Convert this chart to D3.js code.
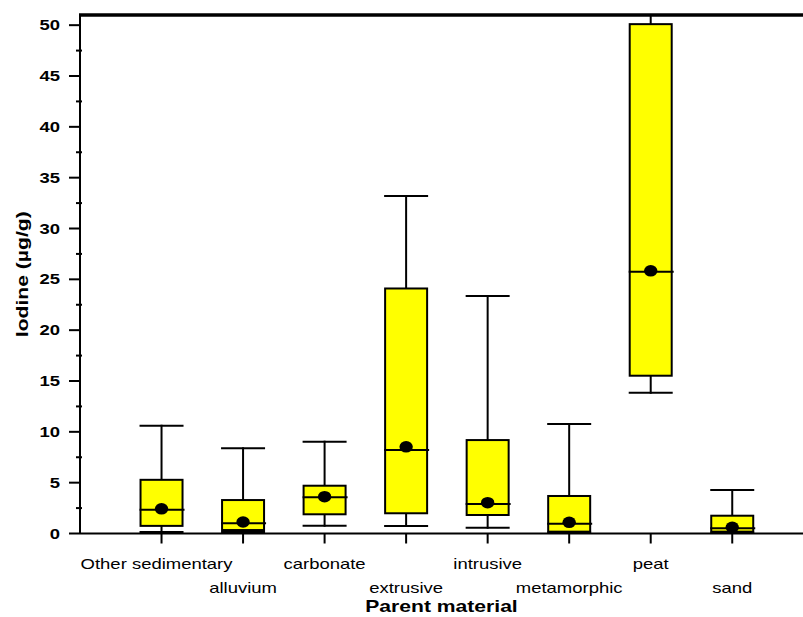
<!DOCTYPE html>
<html><head><meta charset="utf-8">
<script src="https://cdn.jsdelivr.net/npm/d3@7"></script>
<style>body{margin:0;background:#fff}svg{display:block}text{font-family:"Liberation Sans",Arial,sans-serif}</style>
</head><body>
<svg id="c" width="803" height="617"></svg>
<script>
const categories = ["Other sedimentary","alluvium","carbonate","extrusive","intrusive","metamorphic","peat","sand"];
const whiskerLow  = [0.15, 0.15, 0.77, 0.74, 0.57, 0.1, 13.84, 0.1];
const q1          = [0.75, 0.34, 1.89, 1.99, 1.82, 0.18, 15.52, 0.18];
const median      = [2.33, 1.0, 3.56, 8.21, 2.9, 0.96, 25.74, 0.51];
const q3          = [5.28, 3.29, 4.7, 24.1, 9.19, 3.69, 50.1, 1.75];
const whiskerHigh = [10.6, 8.38, 9.03, 33.2, 23.35, 10.77, 60, 4.28];
const mean        = [2.43, 1.13, 3.62, 8.53, 3.03, 1.1, 25.84, 0.61];
const yTicks = [0,5,10,15,20,25,30,35,40,45,50];
const yMinorTicks = [2.5,7.5,12.5,17.5,22.5,27.5,32.5,37.5,42.5,47.5];
const yTitle = "Iodine (µg/g)";
const xTitle = "Parent material";

(function(){
const svg = d3.select("#c");
const mL = 80, mT = 15, mB = 533.5, mR = 803;
const SX = 1.32;
const x = d3.scalePoint().domain(categories).range([mL, mL + 9*81.53]).padding(1);
const y = d3.scaleLinear().domain([0, 51]).range([mB, mT]);
const bw = 42;

svg.append("defs").append("clipPath").attr("id","clip")
  .append("rect").attr("x", mL).attr("y", mT).attr("width", mR-mL).attr("height", mB-mT);

const data = categories.map((c,i)=>({c, lo:whiskerLow[i], q1:q1[i], med:median[i], q3:q3[i], hi:whiskerHigh[i], mean:mean[i]}));
const g = svg.append("g").attr("clip-path","url(#clip)");
const bx = g.selectAll("g.box").data(data).join("g").attr("class","box");
const ln = (sel, x1,y1,x2,y2)=> sel.append("line").attr("x1",x1).attr("y1",y1).attr("x2",x2).attr("y2",y2)
  .attr("stroke","#000").attr("stroke-width",2).attr("stroke-linecap","square");
bx.each(function(d){
  const s = d3.select(this), cx = x(d.c);
  ln(s, cx, y(d.q3), cx, y(d.hi));
  ln(s, cx-bw/2, y(d.hi), cx+bw/2, y(d.hi));
  ln(s, cx, y(d.q1), cx, y(d.lo));
  ln(s, cx-bw/2, y(d.lo), cx+bw/2, y(d.lo));
  s.append("rect").attr("x", cx-bw/2).attr("y", y(d.q3)).attr("width", bw).attr("height", y(d.q1)-y(d.q3))
    .attr("fill","#ffff00").attr("stroke","#000").attr("stroke-width",2);
  ln(s, cx-bw/2, y(d.med), cx+bw/2+1, y(d.med));
  s.append("ellipse").attr("cx", cx).attr("cy", y(d.mean)).attr("rx", 6.7).attr("ry", 5.8).attr("fill","#000");
});

const ax = svg.append("g");
ax.append("line").attr("x1",mL).attr("x2",mL).attr("y1",mT).attr("y2",mB).attr("stroke","#000").attr("stroke-width",2);
ax.append("line").attr("x1",mL).attr("x2",mR).attr("y1",mB).attr("y2",mB).attr("stroke","#000").attr("stroke-width",2);
ax.append("line").attr("x1",mL-1).attr("x2",mR).attr("y1",mT).attr("y2",mT).attr("stroke","#000").attr("stroke-width",3.5);
ax.selectAll("line.maj").data(yTicks).join("line").attr("class","maj")
  .attr("x1",mL-11).attr("x2",mL).attr("y1",d=>y(d)).attr("y2",d=>y(d)).attr("stroke","#000").attr("stroke-width",2);
ax.selectAll("line.min").data(yMinorTicks).join("line").attr("class","min")
  .attr("x1",mL-4).attr("x2",mL+2).attr("y1",d=>y(d)).attr("y2",d=>y(d)).attr("stroke","#000").attr("stroke-width",2);
ax.selectAll("text.yt").data(yTicks).join("text").attr("class","yt")
  .attr("transform", d=>`translate(${mL-20},${y(d)+5}) scale(${SX},1)`)
  .attr("text-anchor","end").attr("font-size",14).attr("font-weight","bold").text(d=>d);
ax.selectAll("line.xt").data(categories).join("line").attr("class","xt")
  .attr("x1",d=>x(d)).attr("x2",d=>x(d)).attr("y1",mB).attr("y2",mB+10).attr("stroke","#000").attr("stroke-width",2);
ax.selectAll("text.xl").data(categories).join("text").attr("class","xl")
  .attr("transform",(d,i)=>`translate(${x(d) - (i===0?5:0)},${i%2===0?569:593}) scale(${SX},1)`)
  .attr("text-anchor","middle").attr("font-size",14).text(d=>d);
svg.append("text").attr("transform",`translate(${(mL+mR)/2},612) scale(${SX},1)`)
  .attr("text-anchor","middle").attr("font-size",16).attr("font-weight","bold").text(xTitle);
svg.append("text").attr("transform",`translate(28,${(mT+mB)/2}) rotate(-90) scale(${SX},1)`)
  .attr("text-anchor","middle").attr("font-size",16).attr("font-weight","bold").text(yTitle);
})();
</script>
</body></html>
